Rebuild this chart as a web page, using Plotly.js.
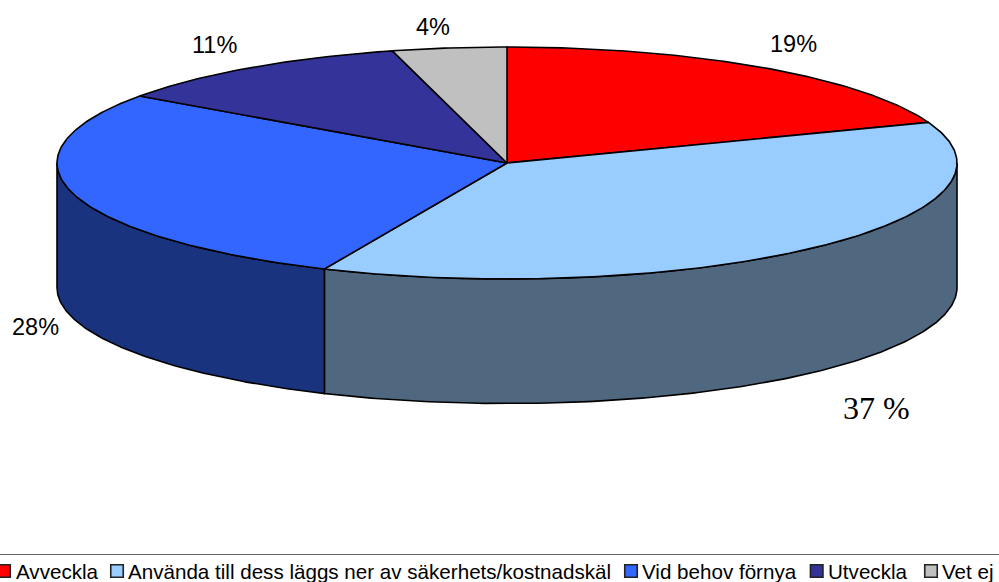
<!DOCTYPE html>
<html><head><meta charset="utf-8">
<script src="https://cdn.plot.ly/plotly-3.0.1.min.js"></script>
<style>html,body{margin:0;padding:0;background:#fff}#c{width:999px;height:582px}</style>
</head><body><div id="c"></div>
<script>
const categories = ["Avveckla","Använda till dess läggs ner av säkerhets/kostnadskäl","Vid behov förnya","Utveckla","Vet ej"];
const values = [19.3,37.35,28.15,11.1,4.1];
const valueLabels = ["19%","37 %","28%","11%","4%"];
const topColors = ["#FF0000","#99CCFF","#3366FF","#333399","#C0C0C0"];
const wallColors = ["#7F0000","#4F677F","#19337F","#19194C","#606060"];
const labelX = [793,876,35,214,433];
const labelY = [44,408,327,45,27];
const legendMarkerX = [4,117,631,816.7,931];
const legendTextX = [16,128,642,828,942];
const cx=507, cy=163, rx=450, ry=116, depth=124.5, legendY=571, keyHalf=6.25;

const total = values.reduce((a,b)=>a+b,0);
const px = t => cx + rx*Math.sin(t);
const py = t => cy - ry*Math.cos(t);
function arc(a,b){const n=Math.max(2,Math.ceil(Math.abs(b-a)*90));const r=[];for(let i=0;i<=n;i++)r.push(a+(b-a)*i/n);return r;}
const traces=[]; const annotations=[];
const shapes=[{type:'line',xref:'x',yref:'y',x0:0,x1:999,y0:554.5,y1:554.5,line:{color:'#666',width:1.2}}];
const base={type:'scatter',mode:'lines',fill:'toself',hoverinfo:'skip',showlegend:false};
let acc=0; const spans=values.map(v=>{const s=[acc/total*2*Math.PI,(acc+v)/total*2*Math.PI];acc+=v;return s;});
// side walls: the front half of the rim only
spans.forEach((s,i)=>{
  const a=Math.max(s[0],Math.PI/2), b=Math.min(s[1],1.5*Math.PI);
  if(b<=a) return;
  const ts=arc(a,b);
  traces.push({...base,name:categories[i],x:[...ts.map(px),...ts.slice().reverse().map(px),px(a)],
    y:[...ts.map(py),...ts.slice().reverse().map(t=>py(t)+depth),py(a)],
    fillcolor:wallColors[i],line:{color:'#000',width:1.6}});
});
// top faces
spans.forEach((s,i)=>{
  const ts=arc(s[0],s[1]);
  traces.push({...base,name:categories[i],x:[cx,...ts.map(px),cx],y:[cy,...ts.map(py),cy],
    fillcolor:topColors[i],line:{color:'#000',width:1.6}});
});
// legend keys
categories.forEach((c,i)=>{
  shapes.push({type:'rect',xref:'x',yref:'y',x0:legendMarkerX[i]-keyHalf,x1:legendMarkerX[i]+keyHalf,
    y0:legendY-keyHalf,y1:legendY+keyHalf,fillcolor:topColors[i],line:{color:'#222',width:1.6}});
  annotations.push({x:legendTextX[i],y:legendY,xref:'x',yref:'y',text:c,showarrow:false,xanchor:'left',yanchor:'middle',xshift:-2,
    font:{family:'Liberation Sans, Arial, sans-serif',size:20.6,color:'#000'}});
});
valueLabels.forEach((t,i)=>{
  const serif=i===1;
  annotations.push({x:labelX[i],y:labelY[i],xref:'x',yref:'y',text:t,showarrow:false,xanchor:'center',yanchor:'middle',
    font:{family:serif?'Liberation Serif, Times New Roman, serif':'Liberation Sans, Arial, sans-serif',size:serif?32:23.5,color:'#000'}});
});
Plotly.newPlot('c',traces,{
  width:999,height:582,margin:{l:0,r:0,t:0,b:0},paper_bgcolor:'#fff',plot_bgcolor:'#fff',showlegend:false,
  xaxis:{range:[0,999],visible:false,fixedrange:true},
  yaxis:{range:[582,0],visible:false,fixedrange:true},
  annotations,shapes
},{displayModeBar:false,staticPlot:true});
</script></body></html>
